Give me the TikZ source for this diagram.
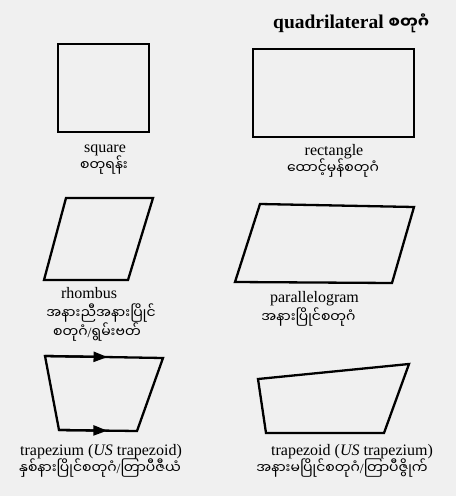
\documentclass[tikz,border=0pt]{standalone}
\usepackage{fontspec}
\setmainfont{Liberation Serif}
\newfontfamily\mya[Script=Myanmar]{Noto Sans Myanmar UI}
\usetikzlibrary{arrows.meta}

\definecolor{paper}{RGB}{240,240,240}
\newcommand{\myslash}{{\rmfamily/}}

\tikzset{
  shapeline/.style={line width=2.3pt,line join=miter},
  enlabel/.style={anchor=base,inner sep=0pt,font=\fontsize{16}{18}\selectfont},
  mylabel/.style={anchor=base,inner sep=0pt,font=\mya\fontsize{14}{18}\selectfont},
  midarrow/.style={line width=2.3pt,-{Triangle[length=14pt,width=10pt]}}
}

\begin{document}
\begin{tikzpicture}[x=1pt,y=-1pt]
  \fill[paper] (0,0) rectangle (456,496);
  \useasboundingbox (0,0) rectangle (456,496);

  % title
  \node[anchor=base west,inner sep=0pt,font=\fontsize{19.5}{22}\selectfont\bfseries] (title) at (273,28.3)
       {quadrilateral {\mya\fontsize{16}{18}\selectfont စတုဂံ}};

  % square
  \coordinate (sq1) at (58,44);
  \coordinate (sq2) at (149,132);
  \draw[shapeline] (sq1) rectangle (sq2);
  \node[enlabel] (sqEn) at (105,152.5) {square};
  \node[mylabel] (sqMy) at (104,170.7) {စတုရန်း};

  % rectangle
  \coordinate (re1) at (253,49);
  \coordinate (re2) at (414,137);
  \draw[shapeline] (re1) rectangle (re2);
  \node[enlabel] (reEn) at (334,155) {rectangle};
  \node[mylabel] (reMy) at (333,173) {ထောင့်မှန်စတုဂံ};

  % rhombus
  \coordinate (rh1) at (66,198);
  \coordinate (rh2) at (153,198);
  \coordinate (rh3) at (128,280);
  \coordinate (rh4) at (44,280);
  \draw[shapeline] (rh1) -- (rh2) -- (rh3) -- (rh4) -- cycle;
  \node[enlabel] (rhEn) at (89,298) {rhombus};
  \node[mylabel] (rhMyA) at (101,318) {အနားညီအနားပြိုင်};
  \node[mylabel] (rhMyB) at (97,337) {စတုဂံ\myslash ရွမ်းဗတ်};

  % parallelogram
  \coordinate (pa1) at (260,204);
  \coordinate (pa2) at (414,207);
  \coordinate (pa3) at (392,283);
  \coordinate (pa4) at (235,282);
  \draw[shapeline] (pa1) -- (pa2) -- (pa3) -- (pa4) -- cycle;
  \node[enlabel] (paEn) at (314.5,302) {parallelogram};
  \node[mylabel] (paMy) at (308.5,322) {အနားပြိုင်စတုဂံ};

  % trapezium, with the parallel sides marked
  \coordinate (tm1) at (45,356);
  \coordinate (tm2) at (163,358);
  \coordinate (tm3) at (137,431);
  \coordinate (tm4) at (59,430);
  \draw[shapeline] (tm1) -- (tm2) -- (tm3) -- (tm4) -- cycle;
  \path (tm1) -- (tm2) coordinate[pos=0.53] (tmTop);
  \path (tm4) -- (tm3) coordinate[pos=0.62] (tmBot);
  \draw[midarrow] (tm1) -- (tmTop);
  \draw[midarrow] (tm4) -- (tmBot);
  \node[enlabel] (tmEn) at (101,455) {trapezium (\textit{US} trapezoid)};
  \node[mylabel] (tmMy) at (100,473) {နှစ်နားပြိုင်စတုဂံ\myslash တြာပီဇီယံ};

  % trapezoid
  \coordinate (tz1) at (258,379);
  \coordinate (tz2) at (409,364);
  \coordinate (tz3) at (384,433);
  \coordinate (tz4) at (266,433);
  \draw[shapeline] (tz1) -- (tz2) -- (tz3) -- (tz4) -- cycle;
  \node[enlabel] (tzEn) at (352,455) {trapezoid (\textit{US} trapezium)};
  \node[mylabel] (tzMy) at (342,473) {အနားမပြိုင်စတုဂံ\myslash တြာပီဇွိုက်};
\end{tikzpicture}
\end{document}
